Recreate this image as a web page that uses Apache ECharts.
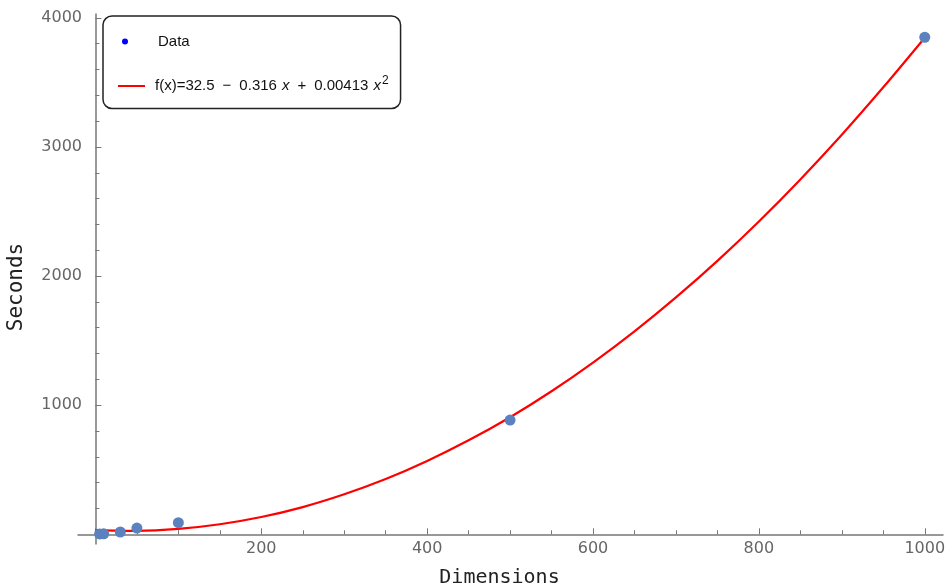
<!DOCTYPE html>
<html>
<head>
<meta charset="utf-8">
<script src="https://cdn.jsdelivr.net/npm/echarts@6/dist/echarts.min.js"></script>
<style>
  html, body { margin: 0; padding: 0; background: #fff; }
  #main { width: 947px; height: 587px; }
</style>
</head>
<body>
<div id="main"></div>
<script>
// measured points (dimension, seconds)
const dataX = [5, 10, 30, 50, 100, 500, 1000];
const dataY = [3, 4, 18, 48, 90, 885, 3850];

// fitted curve
const fitX = [0, 50, 100, 150, 200, 250, 300, 350, 400, 450, 500, 550, 600, 650, 700, 750, 800, 850, 900, 950, 1000];
const fitY = [33, 27, 42, 78, 134, 211, 310, 428, 568, 728, 907, 1108, 1330, 1572, 1835, 2118, 2423, 2749, 3095, 3462, 3846];

// tick positions
const xMajor = [0, 200, 400, 600, 800, 1000];
const xMinor = [50, 100, 150, 250, 300, 350, 450, 500, 550, 650, 700, 750, 850, 900, 950];
const yMajor = [0, 1000, 2000, 3000, 4000];
const yMinor = [200, 400, 600, 800, 1200, 1400, 1600, 1800, 2200, 2400, 2600, 2800, 3200, 3400, 3600, 3800];

const fitName = 'f(x)=32.5 − 0.316 x + 0.00413 x²';

let chart = echarts.init(document.getElementById('main'));

const axisColor = '#777';
const labelStyle = { color: '#666', fontSize: 16, fontFamily: 'DejaVu Sans' };
const nameStyle = { fontFamily: 'DejaVu Sans Mono', fontSize: 20, color: '#222' };
const legendFont = 'Liberation Sans, Arial';

let option = {
  animation: false,
  grid: { left: 78, right: 4, top: 14, bottom: 43, outerBoundsMode: 'none', containLabel: false },
  legend: {
    left: 103,
    top: 16,
    orient: 'vertical',
    padding: [18, 12, 15, 15],
    itemGap: 26,
    itemWidth: 27,
    itemHeight: 6,
    backgroundColor: '#fff',
    borderColor: '#222',
    borderWidth: 1.5,
    borderRadius: 9,
    data: [
      // dot sits near the left of the icon box
      { name: 'Data', icon: 'path://M4,3 a3,3 0 1,0 6,0 a3,3 0 1,0 -6,0 Z M0,3 L0,3 M27,3 L27,3', itemStyle: { color: '#0000ff' } },
      { name: fitName, icon: 'path://M0,0 L27,0 L27,2 L0,2 Z', itemStyle: { color: '#ff0000' } }
    ],
    formatter: function (name) {
      if (name === 'Data') return '{g|}{t|Data}';
      return '{h|}{t|f(x)=32.5}{w|}{t|−}{w|}{t|0.316}{v|}{i|x}{w|}{t|+}{w|}{t|0.00413}{v|}{i|x}{s|2}';
    },
    textStyle: {
      rich: {
        g: { width: 8 },
        h: { width: 5 },
        w: { width: 8 },
        v: { width: 5 },
        t: { fontSize: 15, color: '#111', fontFamily: legendFont },
        i: { fontSize: 15, color: '#111', fontStyle: 'italic', fontFamily: legendFont },
        s: { fontSize: 12, color: '#111', fontFamily: legendFont, padding: [0, 0, 10, 1] }
      }
    }
  },
  xAxis: [
    {
      type: 'value',
      min: -21,
      max: 1022,
      name: 'Dimensions',
      nameLocation: 'middle',
      nameGap: 24,
      nameTextStyle: { ...nameStyle, padding: [0, 22, 0, 0] },
      axisLine: { onZero: true, onZeroAxisIndex: 0, lineStyle: { color: axisColor, width: 1.5 } },
      axisTick: { inside: true, length: 6, customValues: xMajor, lineStyle: { color: axisColor } },
      axisLabel: { customValues: xMajor.slice(1), margin: -3, formatter: v => String(v), ...labelStyle },
      splitLine: { show: false }
    },
    {
      type: 'value',
      min: -21,
      max: 1022,
      position: 'bottom',
      axisLine: { show: false, onZero: true, onZeroAxisIndex: 0 },
      axisTick: { inside: true, length: 4, customValues: xMinor, lineStyle: { color: axisColor } },
      axisLabel: { show: false },
      splitLine: { show: false }
    }
  ],
  yAxis: [
    {
      type: 'value',
      min: -75,
      max: 4030,
      name: 'Seconds',
      nameLocation: 'middle',
      nameGap: 51,
      nameTextStyle: { ...nameStyle, fontSize: 21, padding: [0, 16, 0, 0] },
      axisLine: { onZero: true, onZeroAxisIndex: 0, lineStyle: { color: axisColor, width: 1.5 } },
      axisTick: { inside: true, length: 6, customValues: yMajor, lineStyle: { color: axisColor } },
      axisLabel: { customValues: yMajor.slice(1), margin: -4, formatter: v => String(v), ...labelStyle },
      splitLine: { show: false }
    },
    {
      type: 'value',
      min: -75,
      max: 4030,
      position: 'left',
      axisLine: { show: false, onZero: true, onZeroAxisIndex: 0 },
      axisTick: { inside: true, length: 4, customValues: yMinor, lineStyle: { color: axisColor } },
      axisLabel: { show: false },
      splitLine: { show: false }
    }
  ],
  series: [
    {
      name: fitName,
      type: 'line',
      smooth: 0.3,
      symbol: 'none',
      data: fitX.map((x, i) => [x, fitY[i]]),
      lineStyle: { color: '#ff0000', width: 2.2 },
      itemStyle: { color: '#ff0000' },
      z: 2
    },
    {
      name: 'Data',
      type: 'scatter',
      symbolSize: 11,
      data: dataX.map((x, i) => [x, dataY[i]]),
      itemStyle: { color: '#5b82bf', opacity: 1 },
      z: 3
    }
  ]
};

chart.setOption(option, true);
</script>
</body>
</html>
